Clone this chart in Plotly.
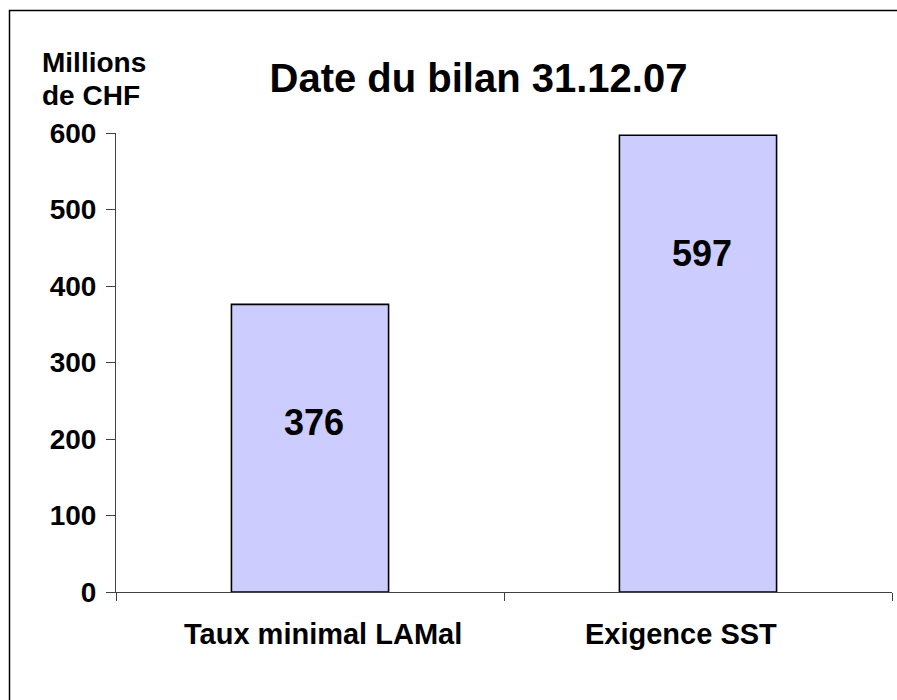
import plotly.graph_objects as go

categories = ["Taux minimal LAMal", "Exigence SST"]
values = [376, 597]
value_labels = ["376", "597"]
y_ticks = [0, 100, 200, 300, 400, 500, 600]
title_text = "Date du bilan 31.12.07"
unit_lines = ["Millions", "de CHF"]

FONT = "Liberation Sans, Arial, sans-serif"
W, H = 897, 700
# plot area in screen pixels
PX0, PX1, PY0, PY1 = 116, 892, 133, 592
L, R, T, B = PX0, W - PX1, PY0, H - PY1
pw = PX1 - PX0
ph = PY1 - PY0

def px_x(x):
    return (x - PX0) / pw

def px_y(y):
    return (PY1 - y) / ph

fig = go.Figure()
fig.add_trace(go.Bar(
    x=categories, y=values, width=0.405,
    marker=dict(color="#CCCCFF", line=dict(color="#000000", width=1.6)),
    hoverinfo="skip",
))

for c, v, t in zip(categories, values, value_labels):
    fig.add_annotation(x=c, y=v, xref="x", yref="y", text=t, showarrow=False,
                       yanchor="middle", xanchor="center", yshift=-118, xshift=4,
                       font=dict(family=FONT, size=36, color="#000000", weight="bold"))

# category labels (slightly off-centre in the reference)
for c, dx in zip(categories, [13, -17]):
    fig.add_annotation(x=c, y=px_y(634), xref="x", yref="paper", text=c, showarrow=False,
                       yanchor="middle", xanchor="center", xshift=dx,
                       font=dict(family=FONT, size=29, color="#000000", weight="bold"))

fig.add_annotation(x=px_x(40), y=px_y(63), xref="paper", yref="paper", text=unit_lines[0],
                   showarrow=False, xanchor="left", yanchor="middle",
                   font=dict(family=FONT, size=28, color="#000000", weight="bold"))
fig.add_annotation(x=px_x(40), y=px_y(95), xref="paper", yref="paper", text=unit_lines[1],
                   showarrow=False, xanchor="left", yanchor="middle",
                   font=dict(family=FONT, size=28, color="#000000", weight="bold"))

fig.add_shape(type="rect", xref="paper", yref="paper",
              x0=px_x(9.5), x1=px_x(920), y0=px_y(720), y1=px_y(10.5),
              line=dict(color="#000000", width=1.5), fillcolor="rgba(0,0,0,0)", layer="below")

fig.update_layout(
    width=W, height=H,
    margin=dict(l=L, r=R, t=T, b=B, pad=0),
    paper_bgcolor="#FFFFFF", plot_bgcolor="#FFFFFF",
    showlegend=False,
    title=dict(text=title_text, x=478.5 / W, xanchor="center", xref="container",
               y=1 - 78 / H, yanchor="middle", yref="container",
               font=dict(family=FONT, size=40, color="#000000", weight="bold")),
    xaxis=dict(type="category", range=[-0.5, 1.5], showline=True, linecolor="#404040", linewidth=1,
               ticks="outside", tickson="boundaries", ticklen=8, tickcolor="#404040",
               showgrid=False, zeroline=False, showticklabels=False),
    yaxis=dict(range=[0, 600], tickvals=y_ticks, showline=True, linecolor="#404040", linewidth=1,
               ticks="outside", ticklen=9, tickcolor="#404040",
               showgrid=False, zeroline=False, ticklabelstandoff=4,
               tickfont=dict(family=FONT, size=28, color="#000000", weight="bold")),
)

fig.write_html("out.html", config={"displayModeBar": False},
               post_script="document.body.style.margin='0';document.body.style.overflow='hidden';")
